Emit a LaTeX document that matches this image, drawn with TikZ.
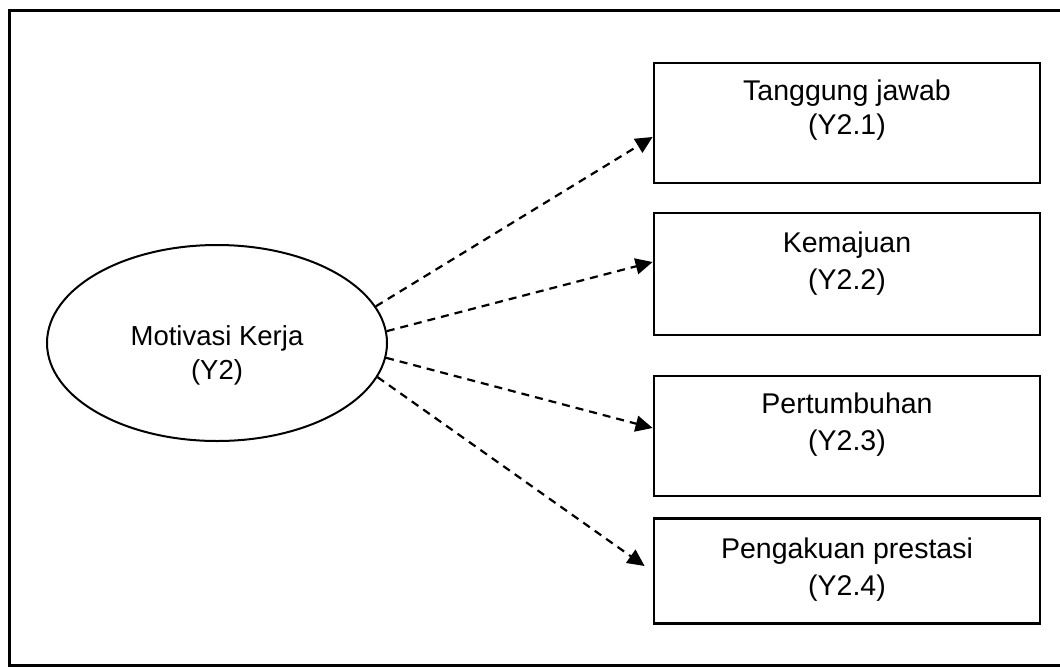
\documentclass[tikz,border=0pt]{standalone}
\usepackage{fontspec}
\setmainfont{Liberation Sans}
\usetikzlibrary{shapes}
\usetikzlibrary{calc}
\usetikzlibrary{arrows.meta}
\tikzset{
    frame/.style = {line width=3pt,draw=black},
    latent/.style = {ellipse, draw=black, line width=2pt, inner sep=0pt, minimum width=340pt, minimum height=196pt},
    indbox/.style = {rectangle, draw=black, line width=2.8pt, minimum width=386pt},
    indtext/.style = {align=center, font=\fontsize{28.5}{37}\selectfont},
    lattext/.style = {align=center, font=\fontsize{27.5}{34}\selectfont},
    edged/.style = {-{Triangle[length=17pt,width=16pt]}, line width=2.2pt, dash pattern=on 8pt off 6pt}, % loading
}

\begin{document}
\begin{tikzpicture}[x=1pt,y=-1pt]
\useasboundingbox (0,0) rectangle (1060,667);
\clip (0,0) rectangle (1060,667);
%
\draw[frame] (9,10) rectangle (1075,665);
%
\node[latent] at (217,343) (mk) {};
\node[lattext] at (217,355) (mkt) {Motivasi Kerja\\(Y2)};
%
\node[indbox, minimum height=120pt] at (847,123) (b1) {};
\node[indbox, minimum height=122pt] at (847,274) (b2) {};
\node[indbox, minimum height=120pt] at (847,436) (b3) {};
\node[indbox, minimum height=105pt] at (847,571) (b4) {};
%
\node[indtext, font=\fontsize{28.5}{34}\selectfont] at (847,110) (t1) {Tanggung jawab\\(Y2.1)};
\node[indtext] at (847,264) (t2) {Kemajuan\\(Y2.2)};
\node[indtext] at (847,425) (t3) {Pertumbuhan\\(Y2.3)};
\node[indtext] at (847,570) (t4) {Pengakuan prestasi\\(Y2.4)};
%
\coordinate (e1) at ($(b1.west)+(0,14)$);
\coordinate (e2) at ($(b2.west)+(0,-12)$);
\coordinate (e3) at ($(b3.west)+(0,-8)$);
\coordinate (e4) at ($(b4.west)+(-8,-5)$);
%
\draw[edged] (mk.13) -- (e1);
\draw[edged] (mk.4) -- (e2);
\draw[edged] (mk.-5) -- (e3);
\draw[edged] (mk.-12) -- (e4);

\end{tikzpicture}
\end{document}
